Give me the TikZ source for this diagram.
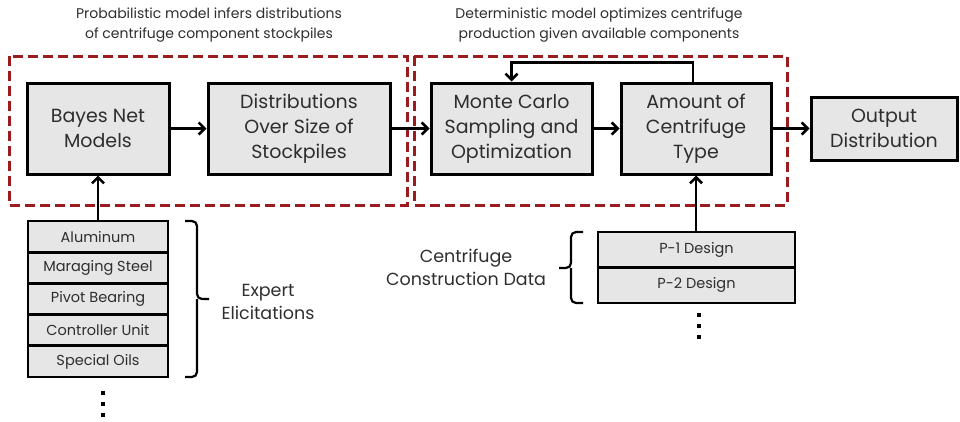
\documentclass[tikz,border=0pt]{standalone}
\usepackage{fontspec}
\setmainfont{Poppins}
\usetikzlibrary{arrows.meta}
\definecolor{groupred}{HTML}{9B1B1E}
\definecolor{boxgray}{HTML}{E6E6E6}
\definecolor{inkgray}{HTML}{2E2E2E}
\tikzset{
  blockbox/.style={draw=black, line width=3pt, fill=boxgray, text=inkgray,
    align=center, inner sep=0pt, font=\fontsize{19}{25}\selectfont},
  rowbox/.style={draw=black, line width=2.8pt, fill=boxgray, text=inkgray,
    align=center, inner sep=0pt, font=\fontsize{14.5}{17}\selectfont},
  groupframe/.style={draw=groupred, line width=3pt, dash pattern=on 10pt off 5pt},
  flow/.style={draw=black, line width=2.6pt, -{Straight Barb[length=6pt,width=12pt,line width=2.6pt]}},
  bracket/.style={draw=black, line width=2.2pt, rounded corners=5pt},
  caption/.style={text=inkgray, align=center, font=\fontsize{14}{20}\selectfont},
  sidenote/.style={text=inkgray, align=center, font=\fontsize{17.5}{23}\selectfont},
  dotmark/.style={fill=black, minimum size=4.5pt, inner sep=0pt}
}
\begin{document}
\begin{tikzpicture}[x=1pt, y=-1pt]
\useasboundingbox (0,0) rectangle (960,421);

% group captions
\node[caption] (capA) at (209,25) {Probabilistic model infers distributions\\of centrifuge component stockpiles};
\node[caption] (capB) at (599,25) {Deterministic model optimizes centrifuge\\production given available components};

% dashed group frames
\draw[groupframe] (9,56) rectangle (407,205);
\draw[groupframe] (414,56) rectangle (787,205);

% main blocks
\node[blockbox, minimum width=142pt, minimum height=91pt] (bayes) at (98,128.5) {Bayes Net\\Models};
\node[blockbox, minimum width=182pt, minimum height=91pt] (dist) at (299,128.5) {Distributions\\Over Size of\\Stockpiles};
\node[blockbox, minimum width=161pt, minimum height=91pt] (mc) at (511.5,128.5) {Monte Carlo\\Sampling and\\Optimization};
\node[blockbox, minimum width=150pt, minimum height=91pt] (amount) at (696,128.5) {Amount of\\Centrifuge\\Type};
\node[blockbox, minimum width=146pt, minimum height=63pt] (output) at (884,128.5) {Output\\Distribution};

% component stack
\node[rowbox, minimum width=140pt, minimum height=31.2pt] (alu) at (98,236.6) {Aluminum};
\node[rowbox, minimum width=140pt, minimum height=31.2pt] (steel) at (98,267.8) {Maraging Steel};
\node[rowbox, minimum width=140pt, minimum height=31.2pt] (pivot) at (98,299) {Pivot Bearing};
\node[rowbox, minimum width=140pt, minimum height=31.2pt] (ctrl) at (98,330.2) {Controller Unit};
\node[rowbox, minimum width=140pt, minimum height=31.2pt] (oils) at (98,361.4) {Special Oils};

% design stack
\node[rowbox, minimum width=197pt, minimum height=35.5pt] (p1) at (696.5,249.75) {P-1 Design};
\node[rowbox, minimum width=197pt, minimum height=35.5pt] (p2) at (696.5,285.25) {P-2 Design};

% continuation dots
\node[dotmark] (dl1) at (103,393) {};
\node[dotmark] (dl2) at (103,404) {};
\node[dotmark] (dl3) at (103,415) {};
\node[dotmark] (dr1) at (699,315) {};
\node[dotmark] (dr2) at (699,326) {};
\node[dotmark] (dr3) at (699,337) {};

% side notes with brackets
\node[sidenote] (expert) at (268,302) {Expert\\Elicitations};
\node[sidenote] (cdata) at (466,267) {Centrifuge\\Construction Data};
\coordinate (bLtop) at (185,221);
\coordinate (bLbot) at (185,377);
\coordinate (bLtip) at (209,299);
\draw[bracket] (bLtop) -| (197,299) -- (bLtip);
\draw[bracket] (bLbot) -| (197,299);
\coordinate (bRtop) at (583,232);
\coordinate (bRbot) at (583,303);
\coordinate (bRtip) at (559,268);
\draw[bracket] (bRtop) -| (571,268) -- (bRtip);
\draw[bracket] (bRbot) -| (571,268);

% connectors
\draw[flow] (bayes.east) -- (dist.west);
\draw[flow] (dist.east) -- (mc.west);
\draw[flow] (mc.east) -- (amount.west);
\draw[flow] (amount.east) -- (output.west);
\draw[flow] (alu.north) -- (bayes.south);
\draw[flow] (p1.north -| amount.south) -- (amount.south);
% feedback loop above the optimisation stage
\coordinate (loopR) at ([xshift=-3pt, yshift=19pt]amount.north);
\coordinate (loopL) at ([yshift=19pt]mc.north);
\draw[flow] ([xshift=-3pt]amount.north) -- (loopR) -- (loopL) -- (mc.north);
\end{tikzpicture}
\end{document}
